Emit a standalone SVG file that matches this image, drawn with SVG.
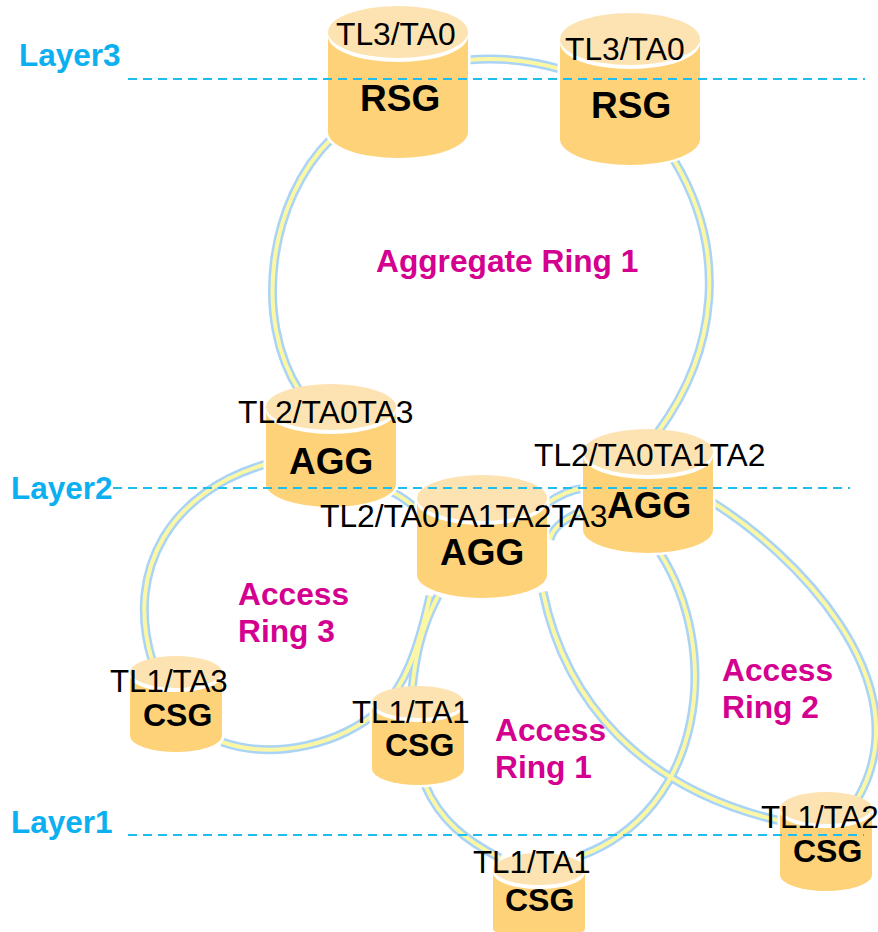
<svg xmlns="http://www.w3.org/2000/svg" width="878" height="932" viewBox="0 0 878 932">
<style>
.lo{fill:none;stroke:#a9d3f7;stroke-width:9}
.li{fill:none;stroke:#fcf7a3;stroke-width:4}
.b{fill:#fed278;stroke:#fff;stroke-width:5;paint-order:stroke}
.w{fill:#fff}
.c{fill:#fde3b2}
.d{fill:none;stroke:#1fbdec;stroke-width:2;stroke-dasharray:9 6}
text{font-family:"Liberation Sans",Arial,sans-serif}
.t{font-size:31.8px;fill:#000}
.u{font-size:31.3px;fill:#000}
.n{font-size:37px;font-weight:bold;fill:#000}
.s{font-size:32px;font-weight:bold;fill:#000}
.r{font-size:31.7px;font-weight:bold;fill:#d4008f}
.y{font-size:31.5px;font-weight:bold;fill:#0cb0f0}
</style>
<defs>
<g id="links">
<path d="M468 60Q515 56 560 69"/>
<path d="M332 138C268 200 253 320 300 392"/>
<path d="M674 160C728 250 718 350 658 432"/>
<path d="M270 463C170 490 125 570 152 660"/>
<path d="M392 492Q405 498 420 512"/>
<path d="M222 742C275 760 340 745 382 708C405 685 418 650 430 596"/>
<path d="M412 690C415 660 420 630 438 596"/>
<path d="M545 505Q565 490 585 488"/>
<path d="M550 540Q552 525 580 512"/>
<path d="M425 785C440 820 465 840 500 858"/>
<path d="M660 553C722 650 705 810 580 856"/>
<path d="M543 592C565 700 640 790 785 822"/>
<path d="M712 502C790 550 925 680 858 798"/>
</g>
</defs>
<g id="connectors">
<use href="#links" class="lo"/>
<use href="#links" class="li"/>
</g>
<g id="rsg1"><path class="b" d="M328 32V132A70 26 0 0 0 468 132V32Z"/><ellipse class="w" cx="398" cy="36" rx="70" ry="26"/><ellipse class="c" cx="398" cy="32" rx="70" ry="26"/></g>
<g id="rsg2"><path class="b" d="M560 39V139A70 26 0 0 0 700 139V39Z"/><ellipse class="w" cx="630" cy="43" rx="70" ry="26"/><ellipse class="c" cx="630" cy="39" rx="70" ry="26"/></g>
<g id="agg1"><path class="b" d="M266 407V484A65 23 0 0 0 396 484V407Z"/><ellipse class="w" cx="331" cy="411" rx="65" ry="23"/><ellipse class="c" cx="331" cy="407" rx="65" ry="23"/></g>
<g id="agg2"><path class="b" d="M583 452V530A65 23 0 0 0 713 530V452Z"/><ellipse class="w" cx="648" cy="456" rx="65" ry="23"/><ellipse class="c" cx="648" cy="452" rx="65" ry="23"/></g>
<g id="agg3"><path class="b" d="M417 498V575A65 23 0 0 0 547 575V498Z"/><ellipse class="w" cx="482" cy="502" rx="65" ry="23"/><ellipse class="c" cx="482" cy="498" rx="65" ry="23"/></g>
<g id="csg3"><path class="b" d="M130 672V736A46 16 0 0 0 222 736V672Z"/><ellipse class="w" cx="176" cy="676" rx="46" ry="16"/><ellipse class="c" cx="176" cy="672" rx="46" ry="16"/></g>
<g id="csg1"><path class="b" d="M372 702V769A46 16 0 0 0 464 769V702Z"/><ellipse class="w" cx="418" cy="706" rx="46" ry="16"/><ellipse class="c" cx="418" cy="702" rx="46" ry="16"/></g>
<g id="csg1b"><path class="b" d="M493 869V928Q493 932 497 932H581Q585 932 585 928V869Z"/><ellipse class="w" cx="539" cy="873" rx="46" ry="16"/><ellipse class="c" cx="539" cy="869" rx="46" ry="16"/></g>
<g id="csg2"><path class="b" d="M780 808V875A46 16 0 0 0 872 875V808Z"/><ellipse class="w" cx="826" cy="812" rx="46" ry="16"/><ellipse class="c" cx="826" cy="808" rx="46" ry="16"/></g>
<g id="layers">
<path class="d" d="M128 79H865"/>
<path class="d" d="M113 488H850"/>
<path class="d" d="M128 835H864"/>
<text class="y" x="19" y="66">Layer3</text>
<text class="y" x="11" y="499">Layer2</text>
<text class="y" x="11" y="833">Layer1</text>
</g>
<g id="labels">
<text class="t" x="336" y="45">TL3/TA0</text>
<text class="n" x="360" y="111">RSG</text>
<text class="t" x="565" y="60">TL3/TA0</text>
<text class="n" x="591" y="118">RSG</text>
<text class="t" x="238" y="423">TL2/TA0TA3</text>
<text class="n" x="289" y="474">AGG</text>
<text class="t" x="534" y="466">TL2/TA0TA1TA2</text>
<text class="n" x="607" y="518">AGG</text>
<text class="t" x="320" y="527">TL2/TA0TA1TA2TA3</text>
<text class="n" x="440" y="565">AGG</text>
<text class="u" x="110" y="692">TL1/TA3</text>
<text class="s" x="143" y="726">CSG</text>
<text class="u" x="352" y="723">TL1/TA1</text>
<text class="s" x="385" y="756">CSG</text>
<text class="u" x="473" y="873">TL1/TA1</text>
<text class="s" x="505" y="911">CSG</text>
<text class="u" x="761" y="828">TL1/TA2</text>
<text class="s" x="793" y="862">CSG</text>
<text class="r" x="376" y="272">Aggregate Ring 1</text>
<text class="r" x="238" y="605">Access</text>
<text class="r" x="238" y="642">Ring 3</text>
<text class="r" x="722" y="681">Access</text>
<text class="r" x="722" y="718">Ring 2</text>
<text class="r" x="495" y="741">Access</text>
<text class="r" x="495" y="778">Ring 1</text>
</g>
</svg>
